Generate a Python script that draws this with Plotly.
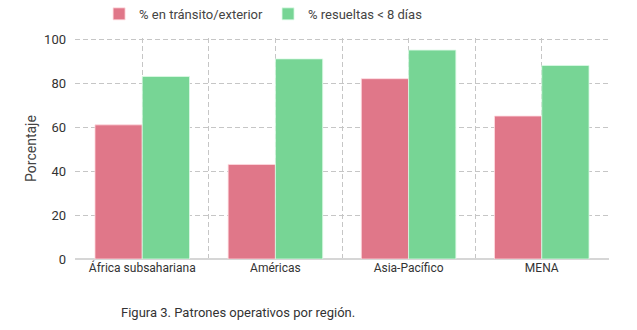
import plotly.graph_objects as go

regions = ["África subsahariana", "Américas", "Asia-Pacífico", "MENA"]
transito = [61, 43, 82, 65]
resueltas = [83, 91, 95, 88]
series_names = ["% en tránsito/exterior", "% resueltas < 8 días"]
y_ticks = [0, 20, 40, 60, 80, 100]

x_pos = list(range(len(regions)))
boundaries = [i - 0.5 for i in range(len(regions) + 1)]

FONT = "Roboto, Liberation Sans, sans-serif"

fig = go.Figure()
fig.add_trace(go.Bar(
    x=x_pos, y=transito, name=series_names[0],
    marker=dict(color="#E07789", line=dict(color="rgba(255,220,225,0.8)", width=1)),
))
fig.add_trace(go.Bar(
    x=x_pos, y=resueltas, name=series_names[1],
    marker=dict(color="#77D595", line=dict(color="rgba(220,250,230,0.8)", width=1)),
))

grid_color = "#c6c6c6"
dash = "5px,3px"
fig.update_layout(
    width=637, height=330,
    margin=dict(l=75, r=28, t=38, b=71, autoexpand=False),
    paper_bgcolor="white", plot_bgcolor="white",
    barmode="group", bargap=0.29, bargroupgap=0,
    font=dict(family=FONT, size=13, color="#444"),
    legend=dict(orientation="h", x=(100 - 76) / 532, xanchor="left", y=1 + (39 - 15) / 220,
                yanchor="middle", font=dict(size=13, color="#444"), itemwidth=30,
                traceorder="normal"),
    xaxis=dict(
        range=[-0.505, len(regions) - 0.495],
        tickmode="array", tickvals=x_pos, ticktext=regions,
        showgrid=True, gridcolor=grid_color, griddash=dash, gridwidth=1,
        minor=dict(tickmode="array", tickvals=boundaries, showgrid=True,
                   gridcolor=grid_color, griddash=dash, gridwidth=1),
        showline=False,
        ticks="", tickfont=dict(size=12, color="#333"),
        zeroline=False,
    ),
    yaxis=dict(
        range=[0, 100.5], tickmode="array", tickvals=y_ticks,
        showgrid=True, gridcolor=grid_color, griddash=dash, gridwidth=1,
        zeroline=True, zerolinecolor="#d6d6d6", zerolinewidth=1.5,
        showline=False, ticks="", ticklabelstandoff=8,
        tickfont=dict(size=13, color="#333"),
        title=dict(text="Porcentaje", font=dict(size=14, color="#444"), standoff=4),
    ),
    annotations=[dict(
        text="Figura 3. Patrones operativos por región.",
        xref="paper", yref="paper", x=(119 - 75) / 534, y=-(312 - 259) / 221,
        xanchor="left", yanchor="middle", showarrow=False,
        font=dict(size=13, color="#333"),
    )],
)

fig.write_html("out.html")
